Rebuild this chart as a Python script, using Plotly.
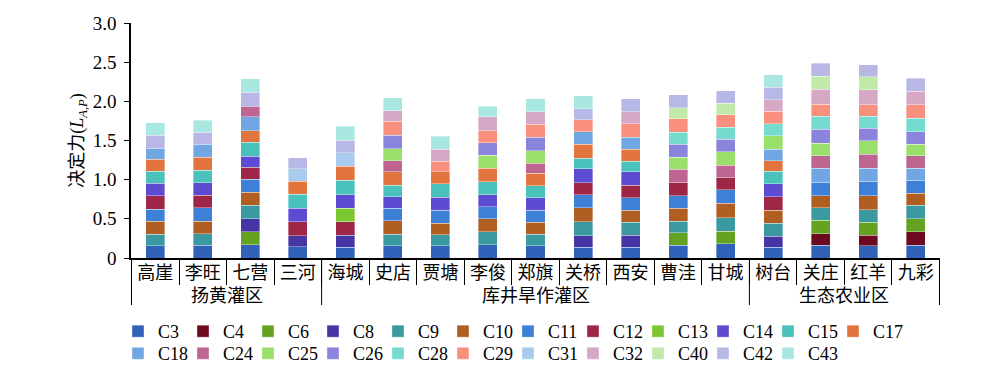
import plotly.graph_objects as go

categories = ["高崖", "李旺", "七营", "三河", "海城", "史店", "贾塘", "李俊", "郑旗",
              "关桥", "西安", "曹洼", "甘城", "树台", "关庄", "红羊", "九彩"]
group_names = ["扬黄灌区", "库井旱作灌区", "生态农业区"]
group_sizes = [4, 9, 4]

N = None
C3 = [.157, .162, .170, .145, .140, .157, .157, .170, .157, .136, .140, .166, .179, .136, .166, .157, .166]
C4 = [N, N, N, N, N, N, N, N, N, N, N, N, N, N, .145, .136, .166]
C6 = [N, N, .166, N, N, N, N, N, N, N, N, .157, .162, N, .174, .166, .170]
C8 = [N, N, .166, .140, .149, N, N, N, N, .145, .153, N, N, .140, N, N, N]
C9 = [.149, .145, .174, N, N, .145, .140, .162, .145, .179, .162, .149, .174, .166, .157, .157, .170]
C10 = [.162, .162, .166, N, N, .174, .149, .166, .157, .179, .157, .166, .183, .170, .153, .179, .153]
C11 = [.157, .170, .162, N, N, .157, .166, .157, .153, .170, .157, .157, .174, N, .174, .187, .166]
C12 = [.170, .162, .153, .179, .174, N, N, N, N, .149, .162, .174, .162, .170, N, N, N]
C13 = [N, N, N, N, .170, N, N, N, N, N, N, N, N, N, N, N, N]
C14 = [.157, .162, .145, .170, .174, .149, .166, .153, .157, .179, .170, N, N, .166, N, N, N]
C15 = [.157, .157, .174, .179, .187, .149, .170, .166, .153, .136, .132, N, N, .157, N, N, N]
C17 = [.149, .166, .149, .166, .179, .170, .153, .170, .157, .179, .153, N, N, .136, N, N, N]
C18 = [.140, .166, .179, N, N, N, N, N, N, .162, .157, N, N, .149, .174, .166, .153]
C24 = [N, N, .136, N, N, .140, N, N, .132, N, N, .166, .149, N, .162, .179, .162]
C25 = [N, N, N, N, N, .153, N, .170, .157, N, N, .153, .174, .170, .162, .170, .149]
C26 = [N, N, N, N, N, .174, N, .157, .174, N, N, .162, .157, N, .179, .157, .157]
C28 = [N, N, N, N, N, N, N, N, N, N, N, .153, .157, .157, .162, .153, .174]
C29 = [N, N, N, N, N, .179, .132, .153, .166, .149, .170, .174, .157, .157, .157, .149, .170]
C31 = [N, N, N, .162, .170, N, N, N, N, N, N, N, N, N, N, N, N]
C32 = [N, N, N, N, N, .136, .153, .179, .157, N, .153, N, N, .149, .187, .191, .174]
C40 = [N, N, N, N, N, N, N, N, N, N, N, .140, .149, N, .166, .170, N]
C42 = [.166, .153, .174, .140, .162, N, N, N, N, .145, .170, .170, .157, .157, .166, .153, .162]
C43 = [.162, .153, .174, N, .174, .162, .170, .136, .170, .162, N, N, N, .157, N, N, N]

series = [
    ("C3", C3, "#2F62B8"), ("C4", C4, "#6E0A1F"), ("C6", C6, "#63A321"),
    ("C8", C8, "#4535A5"), ("C9", C9, "#3B9AA1"), ("C10", C10, "#B15E22"),
    ("C11", C11, "#3E80D8"), ("C12", C12, "#9E2646"), ("C13", C13, "#7CC832"),
    ("C14", C14, "#5D4BD1"), ("C15", C15, "#4AC1BA"), ("C17", C17, "#E2743D"),
    ("C18", C18, "#70A7E3"), ("C24", C24, "#BE6592"), ("C25", C25, "#9ADF6A"),
    ("C26", C26, "#8A84DD"), ("C28", C28, "#75DBCF"), ("C29", C29, "#F9907E"),
    ("C31", C31, "#A9CBEE"), ("C32", C32, "#D7A8C6"), ("C40", C40, "#C0E9AA"),
    ("C42", C42, "#B7B8E6"), ("C43", C43, "#A9E8E1"),
]

FONT = "'Liberation Serif', 'Noto Sans CJK SC', serif"

fig = go.Figure()
for i, (name, vals, color) in enumerate(series):
    fig.add_trace(go.Bar(
        x=categories, y=vals, name=name,
        marker=dict(color=color, line=dict(color="rgba(255,255,255,0.6)", width=0.6)),
        legend="legend" if i < 12 else "legend2",
    ))
    if i in (11, 22):
        # empty, invisible spacer entry so the last legend label is not clipped
        fig.add_trace(go.Bar(
            x=categories, y=[None] * len(categories), name=" ",
            marker=dict(color="rgba(0,0,0,0)", line=dict(width=0)),
            legend="legend" if i < 12 else "legend2", hoverinfo="skip",
        ))

# group labels and dividers (positioned on the category scale)
start = 0
for gname, size in zip(group_names, group_sizes):
    fig.add_annotation(x=start + (size - 1) / 2, xref="x", y=-0.1615, yref="paper",
                       text=gname, showarrow=False, yanchor="middle",
                       font=dict(size=18, family=FONT))
    fig.add_shape(type="line", xref="x", yref="paper", x0=start - 0.5, x1=start - 0.5,
                  y0=0, y1=-0.2, line=dict(color="black", width=1))
    start += size
fig.add_shape(type="line", xref="x", yref="paper", x0=start - 0.5, x1=start - 0.5,
              y0=0, y1=-0.2, line=dict(color="black", width=1))

fig.update_layout(
    barmode="stack",
    bargap=0.6,
    width=974, height=368,
    margin=dict(l=123, r=42, t=15, b=118, autoexpand=False),
    plot_bgcolor="white", paper_bgcolor="white",
    font=dict(family=FONT, size=15, color="black"),
    showlegend=True,
    legend=dict(orientation="h", x=-0.0161, xanchor="left", y=-0.234, yanchor="top",
                entrywidth=20, entrywidthmode="pixels", font=dict(size=18),
                traceorder="normal", bgcolor="rgba(0,0,0,0)"),
    legend2=dict(orientation="h", x=-0.0161, xanchor="left", y=-0.328, yanchor="top",
                 entrywidth=20, entrywidthmode="pixels", font=dict(size=18),
                 traceorder="normal", bgcolor="rgba(0,0,0,0)"),
)
fig.update_xaxes(
    type="category", automargin=False,
    showline=True, linecolor="black", linewidth=1.5,
    ticks="outside", tickson="boundaries", ticklen=25, tickcolor="black", tickwidth=1,
    ticklabelstandoff=-2,
    tickfont=dict(size=18), showgrid=False,
)
fig.update_yaxes(
    range=[0, 3], tickvals=[0, 0.5, 1.0, 1.5, 2.0, 2.5, 3.0],
    ticktext=["0", "0.5", "1.0", "1.5", "2.0", "2.5", "3.0"],
    showline=True, linecolor="black", linewidth=1.5, automargin=False,
    ticks="outside", ticklen=5, tickcolor="black", tickwidth=1,
    ticklabelstandoff=4,
    showgrid=False, zeroline=False, tickfont=dict(size=19),
    title=dict(text="决定力(<i>L</i><sub><i>A,P</i></sub>)", font=dict(size=18), standoff=4),
)

fig.write_html("out.html")
